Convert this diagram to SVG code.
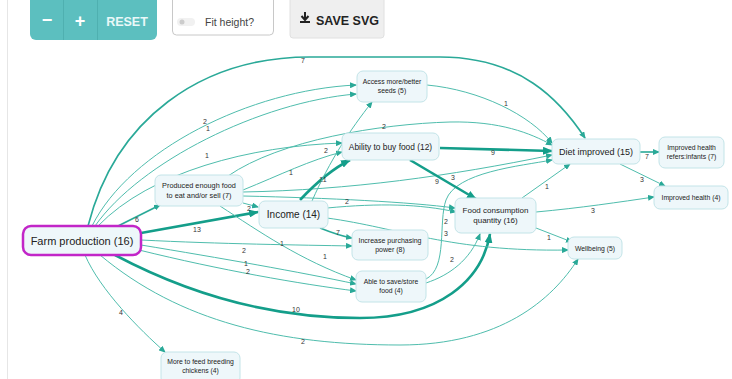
<svg xmlns="http://www.w3.org/2000/svg" width="732" height="379" viewBox="0 0 732 379">
<style>
.n rect{fill:#eef7fa;stroke:#c3e4e8;stroke-width:1}
.n text{font-family:"Liberation Sans",Arial,sans-serif;fill:#222;text-anchor:middle}
.s{font-size:6.8px}
.e{fill:none;stroke:#3db3a2}
.t1{stroke-width:1;stroke:#4fbdad}
.t2{stroke-width:1.6;stroke:#2aa998}
.t3{stroke-width:2.6;stroke:#149e8a}
.lb{font-family:"Liberation Sans",Arial,sans-serif;font-size:7px;fill:#333;text-anchor:middle}
.ui{font-family:"Liberation Sans",Arial,sans-serif;font-weight:bold}
</style>
<defs>
<marker id="a" markerUnits="userSpaceOnUse" markerWidth="7" markerHeight="6" refX="6" refY="3" orient="auto"><path d="M0,0 L7,3 L0,6 Z" fill="#2aa998"/></marker>
<marker id="b" markerUnits="userSpaceOnUse" markerWidth="10" markerHeight="8" refX="9" refY="4" orient="auto"><path d="M0,0 L10,4 L0,8 Z" fill="#149e8a"/></marker>
</defs>
<rect width="732" height="379" fill="#ffffff"/>
<line x1="7.5" y1="0" x2="7.5" y2="379" stroke="#e6e6e6" stroke-width="1"/>

<g id="toolbar">
<rect x="30" y="-8" width="127" height="48" rx="6" fill="#5cbfbf"/>
<line x1="63.5" y1="0" x2="63.5" y2="40" stroke="#4fb0b0"/>
<line x1="97.5" y1="0" x2="97.5" y2="40" stroke="#4fb0b0"/>
<text x="47" y="26" class="ui" font-size="18" fill="#ffffff" text-anchor="middle">−</text>
<text x="80" y="27" class="ui" font-size="18" fill="#ffffff" text-anchor="middle">+</text>
<text x="127" y="26" class="ui" font-size="12.5" fill="#eaf8f8" text-anchor="middle">RESET</text>
<rect x="172.5" y="-5" width="101" height="40" rx="4" fill="#ffffff" stroke="#c8c8c8"/>
<rect x="177" y="18" width="18" height="8" rx="4" fill="#f1f1f1"/>
<circle cx="182" cy="22" r="2.5" fill="#cccccc"/>
<text x="205" y="26" font-family="Liberation Sans,Arial,sans-serif" font-size="10.5" fill="#444">Fit height?</text>
<rect x="290" y="-5" width="94" height="43" rx="3" fill="#efefef" stroke="#e0e0e0"/>
<path d="M305,12 v7 M301.5,16 L305,20 L308.5,16 M300,22 h10" stroke="#222" stroke-width="2" fill="none"/>
<text x="316" y="25" class="ui" font-size="12.5" fill="#222">SAVE SVG</text>
</g>

<g id="connectors">
<path class="e t2" d="M88,226 C115,120 200,57 310,57 L440,57 C520,57 560,100 585,138" marker-end="url(#a)"/>
<text class="lb" x="303" y="63">7</text>
<path class="e t1" d="M92,226 C130,150 250,90 356,85" marker-end="url(#a)"/>
<text class="lb" x="205" y="124">2</text>
<path class="e t1" d="M95,226 C140,162 260,102 356,94" marker-end="url(#a)"/>
<text class="lb" x="208" y="131">1</text>
<path class="e t1" d="M98,226 C150,172 250,146 342,143" marker-end="url(#a)"/>
<text class="lb" x="207" y="158">1</text>
<path class="e t2" d="M118,226 L160,205" marker-end="url(#a)"/>
<text class="lb" x="137" y="222">6</text>
<path class="e t3" d="M141,233 L258,212" marker-end="url(#b)"/>
<text class="lb" x="197" y="232">13</text>
<path class="e t1" d="M141,240 C220,244 300,245 352,246" marker-end="url(#a)"/>
<text class="lb" x="244" y="253">2</text>
<path class="e t1" d="M141,245 C220,258 300,272 356,284" marker-end="url(#a)"/>
<text class="lb" x="246" y="266">1</text>
<path class="e t1" d="M139,250 C220,270 300,284 356,291" marker-end="url(#a)"/>
<text class="lb" x="248" y="274">2</text>
<path class="e t3" d="M115,255 C200,300 280,318 360,318 C440,318 482,280 490,234" marker-end="url(#b)"/>
<text class="lb" x="296" y="312">10</text>
<path class="e t1" d="M100,255 C180,322 280,345 400,345 C500,345 552,300 578,259" marker-end="url(#a)"/>
<text class="lb" x="303" y="344">2</text>
<path class="e t1" d="M85,255 C100,290 140,330 165,352" marker-end="url(#a)"/>
<text class="lb" x="121" y="315">4</text>

<path class="e t1" d="M243,203 L258,207" marker-end="url(#a)"/>
<text class="lb" x="249" y="211">2</text>
<path class="e t1" d="M243,190 C280,175 310,160 342,152" marker-end="url(#a)"/>
<text class="lb" x="291" y="175">1</text>
<path class="e t1" d="M228,176 C280,140 380,124 450,122 C500,121 530,133 552,145" marker-end="url(#a)"/>
<text class="lb" x="384" y="129">2</text>
<path class="e t1" d="M243,192 C350,190 450,176 552,155" marker-end="url(#a)"/>
<text class="lb" x="453" y="180">3</text>
<path class="e t1" d="M243,196 C330,198 410,202 455,208" marker-end="url(#a)"/>
<path class="e t1" d="M220,206 C260,232 300,260 356,280" marker-end="url(#a)"/>
<text class="lb" x="325" y="259">1</text>
<text class="lb" x="282" y="246">1</text>

<path class="e t3" d="M300,200 C315,184 330,170 350,160" marker-end="url(#b)"/>
<text class="lb" x="323" y="182">11</text>
<path class="e t1" d="M312,201 C330,160 350,130 372,102" marker-end="url(#a)"/>
<text class="lb" x="326" y="153">2</text>
<path class="e t2" d="M320,228 C330,232 340,236 352,238" marker-end="url(#a)"/>
<text class="lb" x="338" y="235">7</text>
<path class="e t1" d="M327,208 C380,203 420,204 456,212" marker-end="url(#a)"/>
<text class="lb" x="347" y="204">2</text>
<path class="e t1" d="M327,218 C400,228 450,252 568,250" marker-end="url(#a)"/>
<text class="lb" x="446" y="236">3</text>

<path class="e t1" d="M426,283 C450,275 470,260 480,234" marker-end="url(#a)"/>
<text class="lb" x="452" y="262">2</text>
<path class="e t1" d="M426,279 C448,268 438,222 446,200 C456,172 520,166 552,160" marker-end="url(#a)"/>
<text class="lb" x="446" y="224">2</text>

<path class="e t3" d="M440,148 L552,151" marker-end="url(#b)"/>
<text class="lb" x="493" y="155">9</text>
<path class="e t3" d="M410,160 L476,199" marker-end="url(#b)"/>
<text class="lb" x="437" y="184">9</text>

<path class="e t1" d="M427,85 C480,90 530,115 552,143" marker-end="url(#a)"/>
<text class="lb" x="506" y="106">1</text>

<path class="e t1" d="M522,198 L570,164" marker-end="url(#a)"/>
<text class="lb" x="547" y="189">1</text>
<path class="e t1" d="M536,212 C580,208 620,202 654,197" marker-end="url(#a)"/>
<text class="lb" x="593" y="213">3</text>
<path class="e t1" d="M536,228 L572,242" marker-end="url(#a)"/>
<text class="lb" x="549" y="240">1</text>

<path class="e t2" d="M640,152 L659,152" marker-end="url(#a)"/>
<text class="lb" x="647" y="159">7</text>
<path class="e t1" d="M620,164 L665,186" marker-end="url(#a)"/>
<text class="lb" x="642" y="182">3</text>
</g>

<g id="n-farm" class="n"><rect x="23" y="226" width="118" height="29" rx="8" style="stroke:#c226c8;stroke-width:2.5;fill:#eef7fa"/><text x="82" y="244.5" font-size="11">Farm production (16)</text></g>
<g id="n-produced" class="n"><rect x="155" y="175" width="88" height="31" rx="6"/><text class="s" x="199" y="188" style="font-size:7.3px">Produced enough food</text><text x="199" y="198" style="font-size:7.3px">to eat and/or sell (7)</text></g>
<g id="n-income" class="n"><rect x="259" y="201" width="69" height="27" rx="6"/><text x="293.5" y="218" font-size="10">Income (14)</text></g>
<g id="n-seeds" class="n"><rect x="357" y="71" width="70" height="31" rx="6"/><text class="s" x="392" y="84">Access more/better</text><text class="s" x="392" y="93">seeds (5)</text></g>
<g id="n-abf" class="n"><rect x="342" y="133" width="97" height="27" rx="6"/><text x="390.5" y="149.5" font-size="8.4">Ability to buy food (12)</text></g>
<g id="n-ipp" class="n"><rect x="352" y="230" width="76" height="30" rx="6"/><text class="s" x="390" y="243" style="font-size:7px">Increase purchasing</text><text x="390" y="252" style="font-size:7px">power (8)</text></g>
<g id="n-asf" class="n"><rect x="356" y="271" width="70" height="31" rx="6"/><text class="s" x="391" y="284">Able to save/store</text><text class="s" x="391" y="293">food (4)</text></g>
<g id="n-fc" class="n"><rect x="455" y="198" width="81" height="35" rx="6"/><text x="495.5" y="213" font-size="8">Food consumption</text><text x="495.5" y="223" font-size="8">quantity (16)</text></g>
<g id="n-diet" class="n"><rect x="552" y="139" width="88" height="25" rx="6"/><text x="596" y="154.5" font-size="9">Diet improved (15)</text></g>
<g id="n-ihi" class="n"><rect x="659" y="137" width="65" height="31" rx="6"/><text class="s" x="691.5" y="150">Improved health</text><text class="s" x="691.5" y="159">refers:infants (7)</text></g>
<g id="n-ih" class="n"><rect x="654" y="186" width="74" height="23" rx="6"/><text class="s" x="691" y="200">Improved health (4)</text></g>
<g id="n-wb" class="n"><rect x="568" y="237" width="54" height="22" rx="6"/><text class="s" x="595" y="250.5">Wellbeing (5)</text></g>
<g id="n-chickens" class="n"><rect x="161" y="352" width="79" height="32" rx="6"/><text class="s" x="200.5" y="364">More to feed breeding</text><text class="s" x="200.5" y="373">chickens (4)</text></g>
</svg>
